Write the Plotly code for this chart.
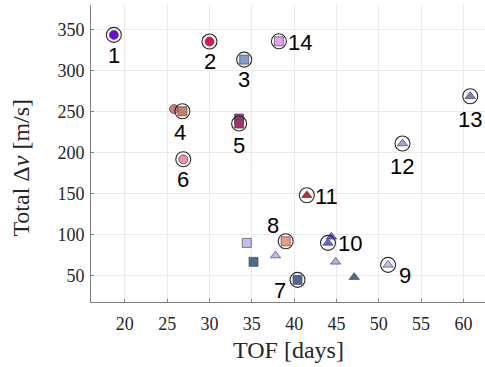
import plotly.graph_objects as go

# ---- data ----
labels = ["1", "2", "3", "4", "5", "6", "7", "8", "9", "10", "11", "12", "13", "14"]
label_tof = [18.7, 30.0, 34.1, 26.8, 33.5, 26.9, 40.4, 39.0, 51.1, 44.0, 41.5, 52.8, 60.8, 38.2]
label_dv = [343.5, 335.4, 313.4, 250.4, 235.4, 191.8, 44.7, 91.8, 63.0, 89.8, 147.9, 211.0, 268.7, 335.7]
label_symbol = ["circle", "circle", "square", "square", "square", "circle", "square", "square",
                "triangle-up", "triangle-up", "triangle-up", "triangle-up", "triangle-up", "square"]
label_color = ["#7300FA", "#EC0A5A", "#7F9DD6", "#C97D6C", "#A3336E", "#F58AB6", "#4F6A92",
               "#F49A80", "#C6B8F0", "#6262E6", "#C22A2A", "#A39DD8", "#7C7AD8", "#E4A2F0"]

extra_tof = [25.8, 33.5, 34.4, 35.2, 37.8, 44.4, 44.9, 47.1]
extra_dv = [253.0, 241.5, 89.8, 66.7, 74.4, 97.2, 66.7, 48.0]
extra_symbol = ["circle", "square", "square", "square", "triangle-up", "triangle-up",
                "triangle-up", "triangle-up"]
extra_color = ["#C97D6C", "#A3336E", "#C9BAF2", "#4F6A92", "#C3B5EC", "#6262E6", "#BCAAEC", "#4F6A92"]

# label offsets in px (dx, dy screen; dy positive = down)
label_offset = [(0, 21), (0, 20), (0, 20), (-2, 21), (0, 22), (0, 20), (-18, 11),
                (-13, -16), (17, 11), (22, 1), (20, 1), (0, 23), (0, 23), (21, 1)]

xticks = [20, 25, 30, 35, 40, 45, 50, 55, 60]
yticks = [50, 100, 150, 200, 250, 300, 350]

SERIF = "Liberation Serif"

fig = go.Figure()

fig.add_trace(go.Scatter(
    x=extra_tof, y=extra_dv, mode="markers",
    marker=dict(symbol=extra_symbol, color=extra_color, size=9,
                line=dict(color="#4a4a4a", width=0.7)),
    showlegend=False, hoverinfo="skip"))

fig.add_trace(go.Scatter(
    x=label_tof, y=label_dv, mode="markers",
    marker=dict(symbol=label_symbol, color=label_color, size=9,
                line=dict(color="#4a4a4a", width=0.7)),
    showlegend=False, hoverinfo="skip"))

fig.add_trace(go.Scatter(
    x=label_tof, y=label_dv, mode="markers",
    marker=dict(symbol="circle-open", color="#2a2a2a", size=15,
                line=dict(color="#2a2a2a", width=1.1)),
    showlegend=False, hoverinfo="skip"))

annotations = []
for lab, x, y, (dx, dy) in zip(labels, label_tof, label_dv, label_offset):
    annotations.append(dict(
        x=x, y=y, xref="x", yref="y", text=lab, showarrow=False,
        xshift=dx, yshift=-dy, xanchor="center", yanchor="middle",
        font=dict(family="Liberation Sans", size=22, color="#000000")))

annotations.append(dict(
    x=0.5, y=-0.163, xref="paper", yref="paper", text="TOF [days]", showarrow=False,
    xanchor="center", yanchor="middle",
    font=dict(family=SERIF, size=24, color="#262626")))
annotations.append(dict(
    x=-0.178, y=0.452, xref="paper", yref="paper", text="Total Δ<i>v</i> [m/s]",
    showarrow=False, textangle=-90, xanchor="center", yanchor="middle",
    font=dict(family=SERIF, size=24, color="#262626")))

fig.update_layout(
    width=485, height=367,
    margin=dict(l=91, r=0, t=5, b=64.5),
    plot_bgcolor="white", paper_bgcolor="white",
    annotations=annotations,
    font=dict(family=SERIF, size=18, color="#262626"),
)
fig.update_xaxes(
    range=[16, 62.55], tickvals=xticks, ticktext=[str(v) for v in xticks],
    showgrid=True, gridcolor="#ebebeb", gridwidth=1, zeroline=False,
    showline=True, linecolor="#808080", linewidth=1,
    ticks="inside", ticklen=3, tickcolor="#808080", ticklabelstandoff=5,
    tickfont=dict(family=SERIF, size=18, color="#262626"))
fig.update_yaxes(
    range=[17.7, 380], tickvals=yticks, ticktext=[str(v) for v in yticks],
    showgrid=True, gridcolor="#ebebeb", gridwidth=1, zeroline=False,
    showline=True, linecolor="#808080", linewidth=1,
    ticks="inside", ticklen=3, tickcolor="#808080", ticklabelstandoff=2,
    tickfont=dict(family=SERIF, size=18, color="#262626"))

fig.write_html("out.html")
